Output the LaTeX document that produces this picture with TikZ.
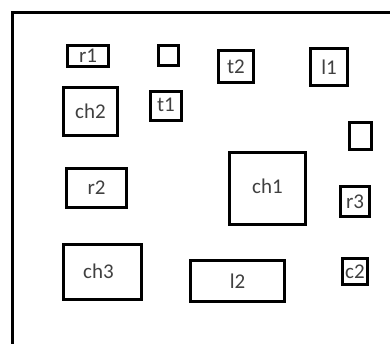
\documentclass[tikz,border=0pt]{standalone}
\usepackage{fontspec}
\setmainfont{Carlito}
\begin{document}
\begin{tikzpicture}[x=1pt,y=-1pt,
  box/.style={draw=black,line width=3pt,rectangle,inner sep=0pt,
    font=\fontsize{21}{21}\selectfont,text=black!75},
  frame/.style={draw=black,line width=3pt}]
\useasboundingbox (0,0) rectangle (390,343);
\clip (0,0) rectangle (390,343);
\coordinate (fb) at (12.5,350);
\coordinate (fc) at (12.5,12.5);
\coordinate (fr) at (400,12.5);
\draw[frame] (fb) -- (fc) -- (fr);
\node[box,minimum width=41pt,minimum height=21pt] (r1) at (88,56) {r1};
\node[box,minimum width=20pt,minimum height=20pt] (sq) at (168.5,55.5) {};
\node[box,minimum width=35pt,minimum height=32pt] (t2) at (236,66.5) {t2};
\node[box,minimum width=37pt,minimum height=37pt] (l1) at (329,67) {l1};
\node[box,minimum width=54pt,minimum height=48pt] (ch2) at (90.5,111.5) {ch2};
\node[box,minimum width=31pt,minimum height=29pt] (t1) at (166,106) {\raisebox{3pt}{t1}};
\node[box,minimum width=22pt,minimum height=27pt] (rr) at (360.5,136) {};
\node[box,minimum width=60pt,minimum height=39pt] (r2) at (96.5,188) {r2};
\node[box,minimum width=76pt,minimum height=72pt] (ch1) at (267.5,188.5) {\raisebox{4pt}{ch1}\hspace{8pt}};
\node[box,minimum width=29pt,minimum height=30pt] (r3) at (355,201.5) {\raisebox{-3pt}{r3}};
\node[box,minimum width=78pt,minimum height=55pt] (ch3) at (102.5,272) {\hspace*{-8pt}\raisebox{2pt}{ch3}};
\node[box,minimum width=94pt,minimum height=41pt] (l2) at (237.5,281) {l2};
\node[box,minimum width=25pt,minimum height=26pt] (c2) at (355,271.5) {c2};
\end{tikzpicture}
\end{document}
